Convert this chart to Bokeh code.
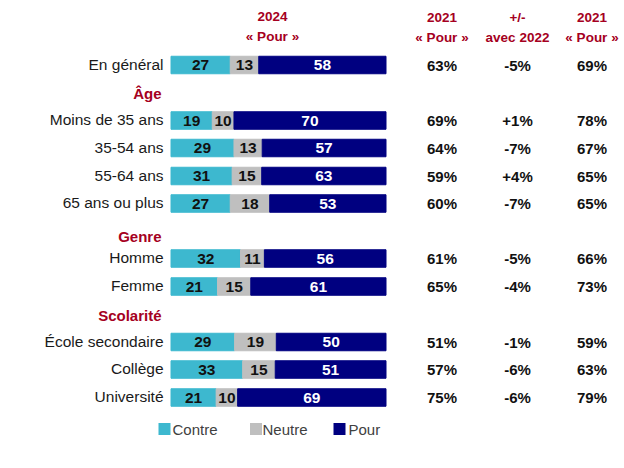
from bokeh.plotting import figure
from bokeh.models import Range1d, ColumnDataSource
from bokeh.core.properties import value
from bokeh.embed import file_html
from bokeh.resources import INLINE

# ---------------- data ----------------
categories = ["En général", "Moins de 35 ans", "35-54 ans", "55-64 ans", "65 ans ou plus",
              "Homme", "Femme", "École secondaire", "Collège", "Université"]
contre = [27, 19, 29, 31, 27, 32, 21, 29, 33, 21]
neutre = [13, 10, 13, 15, 18, 11, 15, 19, 15, 10]
pour = [58, 70, 57, 63, 53, 56, 61, 50, 51, 69]
pour_2021_a = ["63%", "69%", "64%", "59%", "60%", "61%", "65%", "51%", "57%", "75%"]
diff_2022 = ["-5%", "+1%", "-7%", "+4%", "-7%", "-5%", "-4%", "-1%", "-6%", "-6%"]
pour_2021_b = ["69%", "78%", "67%", "65%", "65%", "66%", "73%", "59%", "63%", "79%"]
sections = ["Âge", "Genre", "Scolarité"]
series_names = ["Contre", "Neutre", "Pour"]
col_headers_top = ["2021", "+/-", "2021"]
col_headers_bottom = ["« Pour »", "avec 2022", "« Pour »"]
bar_header = ["2024", "« Pour »"]

# ---------------- layout (pixel positions) ----------------
row_y = [64.5, 120, 147.5, 175.5, 203, 258, 286, 341.5, 369, 397]
section_y = [93, 236, 315]
BAR_L, BAR_R = 170.5, 385.5
PX_PER = (BAR_R - BAR_L) / 100.0


def px2x(px):
    return (px - BAR_L) / PX_PER


C_CONTRE, C_NEUTRE, C_POUR = "#3DB8CF", "#BFBFBF", "#000080"
RED = "#A50021"
FONT = value("Liberation Sans")

W, H = 622, 464
p = figure(width=W, height=H, output_backend="svg", toolbar_location=None,
           x_range=Range1d(px2x(0), px2x(W)), y_range=Range1d(H, 0),
           min_border=0)
p.axis.visible = False
p.grid.visible = False
p.outline_line_color = None
p.background_fill_color = "white"
p.border_fill_color = "white"

# normalise each bar to full width
tot = [c + n + q for c, n, q in zip(contre, neutre, pour)]
c_end = [c / t * 100 for c, t in zip(contre, tot)]
n_end = [(c + n) / t * 100 for c, n, t in zip(contre, neutre, tot)]
src = ColumnDataSource(dict(
    y=row_y, ly=[v - 1 for v in row_y], cat=categories,
    c0=[0] * len(row_y), c1=c_end, n1=n_end, p1=[100] * len(row_y),
    cmid=[e / 2 for e in c_end], nmid=[(a + b) / 2 for a, b in zip(c_end, n_end)],
    pmid=[(b + 100) / 2 for b in n_end],
    ct=[str(v) for v in contre], nt=[str(v) for v in neutre], pt=[str(v) for v in pour],
    a=pour_2021_a, d=diff_2022, b=pour_2021_b,
))

BH = 17.5
p.hbar(y="y", left="c0", right="c1", height=BH, color=C_CONTRE, source=src)
p.hbar(y="y", left="c1", right="n1", height=BH, color=C_NEUTRE, source=src)
p.hbar(y="y", left="n1", right="p1", height=BH, color=C_POUR, source=src)

num_kw = dict(text_font=FONT, text_font_style="bold", text_font_size="15.5px",
              text_align="center", text_baseline="middle", source=src)
p.text(x="cmid", y="y", text="ct", text_color="#111111", **num_kw)
p.text(x="nmid", y="y", text="nt", text_color="#111111", **num_kw)
p.text(x="pmid", y="y", text="pt", text_color="white", **num_kw)

# category labels
p.text(x=px2x(163), y="ly", text="cat", text_font=FONT, text_font_size="15.5px",
       text_align="right", text_baseline="middle", text_color="#1a1a1a", source=src)
# section titles
p.text(x=[px2x(161)] * len(sections), y=section_y, text=sections, text_font=FONT,
       text_font_style="bold", text_font_size="15px", text_align="right",
       text_baseline="middle", text_color=RED)

# right-side columns
col_x = [441.5, 517, 591.5]
for cx, key in zip(col_x, ["a", "d", "b"]):
    p.text(x=px2x(cx), y="y", text=key, text_font=FONT, text_font_style="bold",
           text_font_size="15px", text_align="center", text_baseline="middle",
           text_color="#111111", source=src)

hdr_kw = dict(text_font=FONT, text_font_style="bold", text_font_size="13.5px",
              text_align="center", text_baseline="middle", text_color=RED)
p.text(x=[px2x(cx) for cx in col_x], y=[17] * 3, text=col_headers_top, **hdr_kw)
p.text(x=[px2x(cx) for cx in col_x], y=[37] * 3, text=col_headers_bottom, **hdr_kw)
p.text(x=[px2x(272)] * 2, y=[15.5, 35.5], text=bar_header, **hdr_kw)

# legend
leg_sq = [164, 255.5, 339]
leg_tx = [172, 262, 348]
p.scatter(x=[px2x(v) for v in leg_sq], y=[428.5] * 3, marker="square", size=12,
          color=[C_CONTRE, C_NEUTRE, C_POUR], line_color=None)
p.text(x=[px2x(v) for v in leg_tx], y=[428.5] * 3, text=series_names, text_font=FONT,
       text_font_size="15px", text_align="left", text_baseline="middle",
       text_color="#404040")

open("out.html", "w").write(file_html(p, INLINE))
